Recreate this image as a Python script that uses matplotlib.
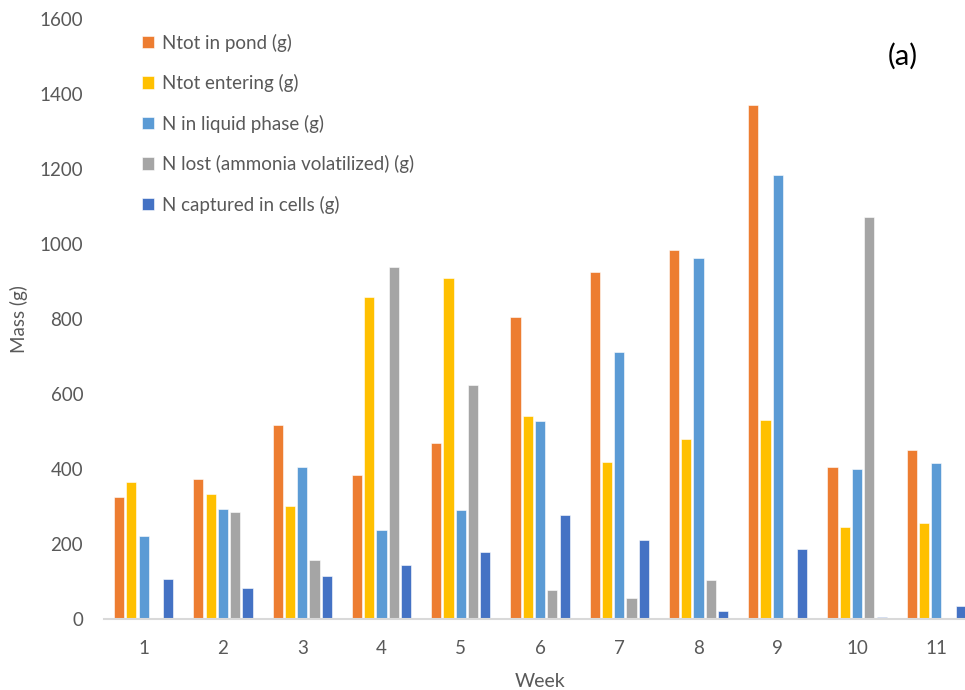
import matplotlib
matplotlib.use('Agg')
import matplotlib.pyplot as plt
import numpy as np

weeks = [1, 2, 3, 4, 5, 6, 7, 8, 9, 10, 11]
ntot_pond = [325, 374, 517, 383, 469, 805, 924, 985, 1371, 406, 451]
ntot_entering = [365, 334, 301, 858, 908, 541, 419, 479, 531, 244, 255]
n_liquid = [220, 292, 404, 237, 291, 527, 711, 963, 1184, 399, 416]
n_lost = [0, 285, 158, 938, 625, 76, 56, 104, 0, 1072, 0]
n_cells = [106, 82, 114, 144, 178, 277, 210, 22, 187, 6, 35]

series = [
    ('Ntot in pond (g)', ntot_pond, '#ED7D31'),
    ('Ntot entering (g)', ntot_entering, '#FFC000'),
    ('N in liquid phase (g)', n_liquid, '#5B9BD5'),
    ('N lost (ammonia volatilized) (g)', n_lost, '#A5A5A5'),
    ('N captured in cells (g)', n_cells, '#4472C4'),
]

plt.rcParams['font.family'] = ['Lato', 'DejaVu Sans']
txt = '#595959'

fig = plt.figure(figsize=(9.65, 6.9), dpi=100)
ax = fig.add_axes([0.1078, 0.1029, 0.9036, 0.8696])

x = np.array(weeks, dtype=float)
pitch = 0.155
width = 0.128
for i, (lbl, vals, col) in enumerate(series):
    ax.bar(x + (i - 2) * pitch, vals, width, color=col, label=lbl,
           edgecolor='white', linewidth=0.4)

ax.set_xlim(0.5, 11.5)
ax.set_ylim(0, 1600)
ax.set_yticks(np.arange(0, 1601, 200))
ax.set_xticks(weeks)
ax.tick_params(axis='both', length=0, labelsize=13.5, labelcolor=txt)
ax.tick_params(axis='y', pad=15)
ax.tick_params(axis='x', pad=15)
for s in ['top', 'right', 'left']:
    ax.spines[s].set_visible(False)
ax.spines['bottom'].set_color('#D9D9D9')
ax.spines['bottom'].set_linewidth(1.5)

ax.set_xlabel('Week', fontsize=14, color=txt, labelpad=12)
ax.set_ylabel('Mass (g)', fontsize=13.5, color=txt, labelpad=8)

ax.legend(loc='upper left', bbox_to_anchor=(0.024, 1.004), frameon=False,
          fontsize=13.5, labelcolor=txt, handlelength=0.65, handleheight=0.65,
          handletextpad=0.4, labelspacing=1.2)

ax.text(0.916, 0.937, '(a)', transform=ax.transAxes, fontsize=21,
        color='black', ha='center', va='center')

fig.savefig('out.png', dpi=100)
